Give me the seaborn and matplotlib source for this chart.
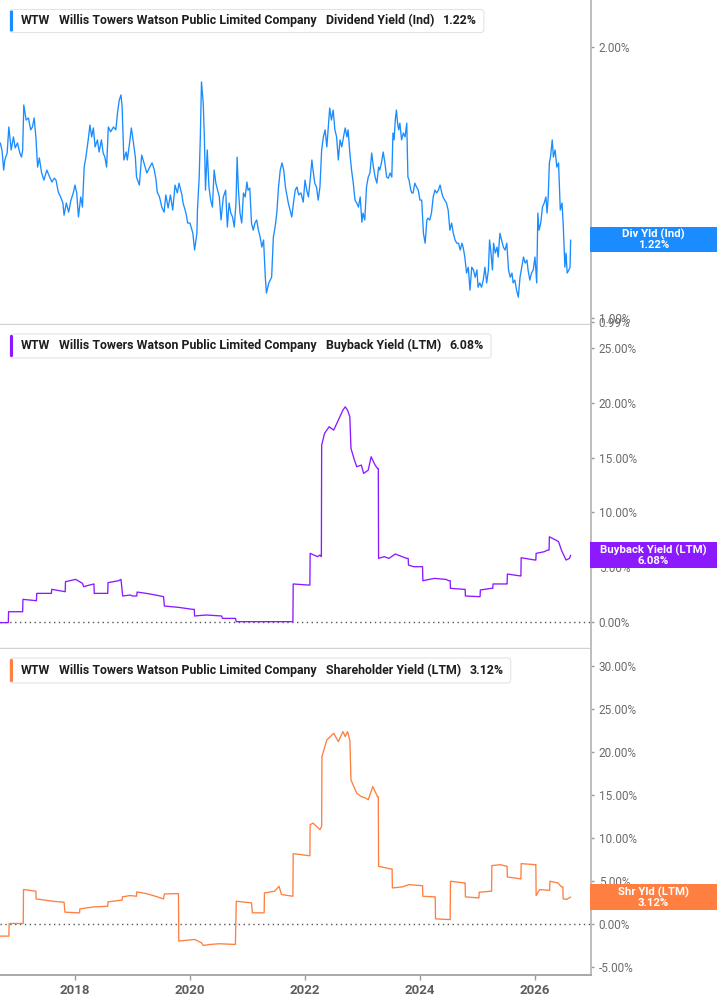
import matplotlib
matplotlib.use("Agg")
import matplotlib.pyplot as plt
import seaborn as sns
import pandas as pd
from matplotlib.patches import FancyBboxPatch, Rectangle
from matplotlib.ticker import NullLocator, NullFormatter

# ---------------- data (decimal years, percent) ----------------
div_years = [
    2016.70, 2016.73, 2016.76, 2016.78, 2016.82, 2016.85, 2016.89, 2016.93, 2016.96, 2017.00,
    2017.04, 2017.07, 2017.09, 2017.11, 2017.15, 2017.19, 2017.23, 2017.26, 2017.29, 2017.32,
    2017.35, 2017.38, 2017.42, 2017.46, 2017.51, 2017.56, 2017.60, 2017.64, 2017.67, 2017.71,
    2017.75, 2017.79, 2017.81, 2017.85, 2017.89, 2017.93, 2017.97, 2018.00, 2018.03, 2018.06,
    2018.10, 2018.13, 2018.16, 2018.19, 2018.23, 2018.26, 2018.29, 2018.32, 2018.35, 2018.39,
    2018.42, 2018.46, 2018.49, 2018.52, 2018.55, 2018.58, 2018.62, 2018.67, 2018.71, 2018.74,
    2018.77, 2018.80, 2018.82, 2018.85, 2018.89, 2018.91, 2018.95, 2018.98, 2019.01, 2019.05,
    2019.07, 2019.12, 2019.16, 2019.20, 2019.25, 2019.29, 2019.34, 2019.38, 2019.41, 2019.43,
    2019.47, 2019.51, 2019.55, 2019.58, 2019.62, 2019.66, 2019.70, 2019.74, 2019.78, 2019.81,
    2019.86, 2019.88, 2019.93, 2019.96, 2020.00, 2020.05, 2020.08, 2020.12, 2020.13, 2020.16,
    2020.18, 2020.20, 2020.23, 2020.25, 2020.27, 2020.30, 2020.33, 2020.36, 2020.39, 2020.42,
    2020.45, 2020.48, 2020.51, 2020.54, 2020.58, 2020.62, 2020.65, 2020.68, 2020.71, 2020.74,
    2020.77, 2020.80, 2020.82, 2020.84, 2020.87, 2020.90, 2020.93, 2020.96, 2020.99, 2021.01,
    2021.04, 2021.07, 2021.10, 2021.13, 2021.16, 2021.19, 2021.22, 2021.25, 2021.28, 2021.31,
    2021.33, 2021.37, 2021.42, 2021.45, 2021.48, 2021.51, 2021.54, 2021.57, 2021.60, 2021.63,
    2021.66, 2021.69, 2021.71, 2021.74, 2021.77, 2021.80, 2021.83, 2021.86, 2021.89, 2021.93,
    2021.97, 2022.00, 2022.03, 2022.06, 2022.09, 2022.12, 2022.14, 2022.17, 2022.20, 2022.23,
    2022.26, 2022.29, 2022.32, 2022.35, 2022.38, 2022.41, 2022.43, 2022.46, 2022.49, 2022.52,
    2022.55, 2022.58, 2022.61, 2022.64, 2022.67, 2022.70, 2022.73, 2022.75, 2022.78, 2022.81,
    2022.84, 2022.87, 2022.90, 2022.93, 2022.96, 2022.99, 2023.01, 2023.04, 2023.07, 2023.10,
    2023.13, 2023.16, 2023.19, 2023.22, 2023.25, 2023.28, 2023.30, 2023.33, 2023.36, 2023.39,
    2023.42, 2023.45, 2023.48, 2023.51, 2023.53, 2023.55, 2023.57, 2023.59, 2023.61, 2023.63,
    2023.65, 2023.68, 2023.71, 2023.74, 2023.77, 2023.79, 2023.81, 2023.84, 2023.86, 2023.88,
    2023.91, 2023.94, 2023.97, 2024.00, 2024.03, 2024.06, 2024.09, 2024.12, 2024.14, 2024.17,
    2024.20, 2024.23, 2024.26, 2024.29, 2024.32, 2024.35, 2024.38, 2024.40, 2024.43, 2024.46,
    2024.49, 2024.52, 2024.55, 2024.58, 2024.61, 2024.64, 2024.67, 2024.70, 2024.73, 2024.75,
    2024.78, 2024.81, 2024.84, 2024.87, 2024.90, 2024.93, 2024.96, 2024.99, 2025.01, 2025.04,
    2025.07, 2025.10, 2025.13, 2025.16, 2025.19, 2025.21, 2025.23, 2025.26, 2025.28, 2025.31,
    2025.34, 2025.36, 2025.39, 2025.42, 2025.45, 2025.48, 2025.51, 2025.54, 2025.57, 2025.60,
    2025.62, 2025.65, 2025.68, 2025.71, 2025.74, 2025.77, 2025.80, 2025.83, 2025.86, 2025.88,
    2025.91, 2025.94, 2025.97, 2026.00, 2026.03, 2026.05, 2026.07, 2026.10, 2026.13, 2026.16,
    2026.19, 2026.21, 2026.23, 2026.25, 2026.27, 2026.30, 2026.32, 2026.35, 2026.38, 2026.41,
    2026.44, 2026.47, 2026.49, 2026.52, 2026.54, 2026.56, 2026.59, 2026.61, 2026.62,
]
div_vals = [
    1.565, 1.537, 1.460, 1.498, 1.525, 1.630, 1.537, 1.589, 1.545, 1.565,
    1.525, 1.509, 1.537, 1.724, 1.659, 1.668, 1.618, 1.630, 1.668, 1.589,
    1.471, 1.506, 1.449, 1.423, 1.460, 1.434, 1.416, 1.430, 1.423, 1.380,
    1.363, 1.342, 1.301, 1.342, 1.311, 1.352, 1.377, 1.405, 1.377, 1.295,
    1.363, 1.328, 1.471, 1.509, 1.577, 1.638, 1.589, 1.626, 1.549, 1.577,
    1.529, 1.577, 1.525, 1.509, 1.471, 1.630, 1.610, 1.630, 1.618, 1.690,
    1.746, 1.769, 1.715, 1.498, 1.529, 1.498, 1.565, 1.626, 1.577, 1.509,
    1.434, 1.405, 1.517, 1.487, 1.449, 1.467, 1.487, 1.460, 1.423, 1.380,
    1.363, 1.328, 1.311, 1.370, 1.325, 1.370, 1.318, 1.405, 1.377, 1.412,
    1.370, 1.342, 1.308, 1.275, 1.275, 1.242, 1.190, 1.242, 1.318, 1.434,
    1.589, 1.829, 1.733, 1.589, 1.387, 1.537, 1.398, 1.352, 1.328, 1.460,
    1.412, 1.387, 1.363, 1.285, 1.363, 1.387, 1.262, 1.342, 1.308, 1.295,
    1.262, 1.342, 1.509, 1.398, 1.308, 1.275, 1.377, 1.363, 1.416, 1.387,
    1.394, 1.275, 1.252, 1.275, 1.285, 1.252, 1.230, 1.199, 1.221, 1.110,
    1.066, 1.094, 1.110, 1.230, 1.262, 1.308, 1.398, 1.460, 1.487, 1.460,
    1.398, 1.363, 1.342, 1.318, 1.295, 1.342, 1.387, 1.398, 1.370, 1.377,
    1.345, 1.423, 1.387, 1.363, 1.423, 1.498, 1.460, 1.412, 1.398, 1.352,
    1.398, 1.537, 1.589, 1.618, 1.549, 1.646, 1.711, 1.659, 1.702, 1.618,
    1.589, 1.498, 1.577, 1.549, 1.589, 1.626, 1.589, 1.618, 1.525, 1.460,
    1.412, 1.352, 1.342, 1.328, 1.363, 1.278, 1.308, 1.285, 1.398, 1.434,
    1.449, 1.525, 1.471, 1.434, 1.412, 1.471, 1.460, 1.487, 1.529, 1.487,
    1.434, 1.430, 1.449, 1.434, 1.605, 1.577, 1.659, 1.702, 1.646, 1.618,
    1.646, 1.577, 1.605, 1.589, 1.646, 1.434, 1.423, 1.387, 1.377, 1.377,
    1.412, 1.398, 1.387, 1.352, 1.352, 1.242, 1.211, 1.285, 1.291, 1.285,
    1.308, 1.363, 1.387, 1.377, 1.387, 1.405, 1.377, 1.363, 1.352, 1.342,
    1.318, 1.252, 1.275, 1.242, 1.221, 1.211, 1.211, 1.190, 1.211, 1.199,
    1.169, 1.122, 1.139, 1.074, 1.139, 1.131, 1.110, 1.131, 1.082, 1.094,
    1.082, 1.102, 1.139, 1.094, 1.131, 1.221, 1.190, 1.131, 1.211, 1.181,
    1.199, 1.169, 1.242, 1.221, 1.199, 1.190, 1.211, 1.131, 1.110, 1.122,
    1.094, 1.102, 1.074, 1.055, 1.110, 1.139, 1.169, 1.151, 1.160, 1.131,
    1.102, 1.122, 1.131, 1.169, 1.094, 1.308, 1.252, 1.275, 1.328, 1.342,
    1.363, 1.308, 1.363, 1.487, 1.509, 1.577, 1.509, 1.537, 1.471, 1.487,
    1.318, 1.342, 1.275, 1.139, 1.181, 1.122, 1.131, 1.139, 1.221,
]

bb_years = [
    2016.70, 2016.84, 2016.845, 2017.09, 2017.095, 2017.33, 2017.335, 2017.59, 2017.595, 2017.83,
    2017.835, 2018.01, 2018.13, 2018.15, 2018.25, 2018.33, 2018.335, 2018.57, 2018.575, 2018.76,
    2018.80, 2018.83, 2018.96, 2019.00, 2019.075, 2019.08, 2019.24, 2019.40, 2019.54, 2019.555,
    2019.80, 2020.04, 2020.075, 2020.08, 2020.28, 2020.55, 2020.565, 2020.79, 2020.805, 2021.79,
    2021.795, 2022.06, 2022.085, 2022.09, 2022.22, 2022.26, 2022.285, 2022.29, 2022.34, 2022.42,
    2022.50, 2022.58, 2022.66, 2022.70, 2022.74, 2022.78, 2022.80, 2022.86, 2022.90, 2022.98,
    2023.02, 2023.10, 2023.15, 2023.22, 2023.26, 2023.275, 2023.28, 2023.38, 2023.46, 2023.57,
    2023.69, 2023.77, 2023.795, 2023.80, 2023.89, 2024.01, 2024.045, 2024.05, 2024.25, 2024.45,
    2024.50, 2024.525, 2024.53, 2024.77, 2024.785, 2024.79, 2025.03, 2025.045, 2025.05, 2025.24,
    2025.265, 2025.27, 2025.51, 2025.515, 2025.52, 2025.75, 2025.755, 2025.76, 2026.00, 2026.015,
    2026.02, 2026.16, 2026.22, 2026.245, 2026.25, 2026.36, 2026.41, 2026.46, 2026.54, 2026.60,
    2026.62,
]
bb_vals = [
    -0.09, -0.09, 0.91, 0.91, 2.04, 1.92, 2.59, 2.59, 2.96, 2.74,
    3.66, 3.87, 3.51, 3.20, 3.35, 3.45, 2.59, 2.59, 3.57, 3.75,
    3.87, 2.35, 2.44, 2.35, 2.35, 2.71, 2.59, 2.44, 2.29, 1.43,
    1.31, 1.13, 1.13, 0.52, 0.61, 0.52, 0.30, 0.30, 0.00, 0.00,
    3.45, 3.35, 3.35, 6.25, 5.95, 6.10, 5.95, 16.16, 17.23, 17.84,
    17.53, 18.45, 19.36, 19.66, 19.36, 18.75, 15.85, 14.79, 14.18, 14.33,
    13.57, 13.87, 15.09, 14.33, 14.02, 14.02, 5.79, 5.95, 5.79, 6.19,
    5.95, 5.79, 5.79, 5.18, 5.03, 5.03, 5.03, 3.75, 3.96, 3.87,
    3.75, 3.75, 3.05, 2.96, 2.96, 2.35, 2.29, 2.29, 2.90, 3.05,
    3.05, 3.45, 3.45, 3.45, 4.36, 4.18, 4.18, 5.85, 5.64, 5.64,
    6.25, 6.40, 6.55, 6.55, 7.77, 7.47, 7.32, 6.55, 5.64, 5.79,
    6.08,
]

shy_years = [
    2016.70, 2016.85, 2016.855, 2017.10, 2017.105, 2017.21, 2017.32, 2017.325, 2017.49, 2017.61,
    2017.81, 2017.825, 2018.05, 2018.08, 2018.085, 2018.21, 2018.33, 2018.57, 2018.575, 2018.80,
    2018.82, 2018.825, 2018.96, 2019.07, 2019.075, 2019.24, 2019.40, 2019.54, 2019.555, 2019.80,
    2019.805, 2019.96, 2020.08, 2020.20, 2020.23, 2020.35, 2020.51, 2020.79, 2020.805, 2021.07,
    2021.085, 2021.29, 2021.295, 2021.47, 2021.55, 2021.59, 2021.79, 2021.795, 2021.94, 2022.06,
    2022.085, 2022.09, 2022.14, 2022.26, 2022.29, 2022.295, 2022.38, 2022.50, 2022.58, 2022.66,
    2022.70, 2022.74, 2022.78, 2022.80, 2022.90, 2022.98, 2023.06, 2023.10, 2023.18, 2023.26,
    2023.275, 2023.28, 2023.42, 2023.49, 2023.515, 2023.52, 2023.69, 2023.81, 2024.01, 2024.045,
    2024.05, 2024.25, 2024.265, 2024.27, 2024.50, 2024.525, 2024.53, 2024.77, 2024.785, 2024.79,
    2025.01, 2025.025, 2025.03, 2025.22, 2025.245, 2025.25, 2025.40, 2025.51, 2025.515, 2025.52,
    2025.75, 2025.755, 2025.76, 2026.00, 2026.015, 2026.02, 2026.08, 2026.24, 2026.255, 2026.26,
    2026.40, 2026.46, 2026.485, 2026.49, 2026.55, 2026.62,
]
shy_vals = [
    -1.43, -1.43, 0.04, 0.04, 3.99, 3.91, 3.79, 2.90, 2.75, 2.63,
    2.52, 1.36, 1.28, 1.28, 1.74, 1.86, 1.97, 2.05, 2.56, 2.75,
    2.75, 3.14, 3.29, 3.21, 3.72, 3.52, 3.21, 2.90, 3.48, 3.52,
    -2.01, -1.90, -1.82, -2.21, -2.52, -2.40, -2.32, -2.40, 2.63, 2.44,
    1.28, 1.28, 3.60, 3.79, 4.37, 3.41, 3.21, 8.17, 8.05, 7.94,
    7.94, 11.54, 11.73, 10.96, 11.34, 19.47, 21.41, 22.18, 21.22, 22.38,
    21.80, 22.38, 21.41, 16.76, 15.21, 14.82, 14.63, 14.44, 15.99, 14.82,
    14.82, 6.70, 6.50, 6.39, 6.39, 4.18, 4.30, 4.57, 4.45, 4.45,
    3.21, 3.14, 3.14, 0.58, 0.50, 0.50, 4.96, 4.76, 4.76, 3.14,
    3.02, 3.02, 3.68, 3.79, 3.79, 6.78, 6.89, 6.70, 6.70, 5.46,
    5.23, 5.23, 7.01, 6.89, 6.89, 3.29, 3.99, 3.91, 3.91, 4.96,
    4.76, 4.30, 4.30, 2.90, 2.85, 3.12,
]

company = "Willis Towers Watson Public Limited Company"
ticker = "WTW"
series_names = ["Dividend Yield (Ind)", "Buyback Yield (LTM)", "Shareholder Yield (LTM)"]
short_names = ["Div Yld (Ind)", "Buyback Yield (LTM)", "Shr Yld (LTM)"]
colors = ["#1a8cff", "#8c1aff", "#ff7f40"]
x_ticks = [2018, 2020, 2022, 2024, 2026]
bb_ticks = [0, 5, 10, 15, 20, 25]
shy_ticks = [-5, 0, 5, 10, 15, 20, 25, 30]
div_ticks = [0.99, 1.00, 2.00]

# ---------------- style ----------------
sns.set_theme(style="white")
plt.rcParams["font.family"] = ["Roboto", "DejaVu Sans"]

W, H = 717, 1005
fig = plt.figure(figsize=(W / 100, H / 100), dpi=100)
fig.patch.set_facecolor("white")

AX_RIGHT = 591


def rect(top, bottom):
    return [0, 1 - bottom / H, AX_RIGHT / W, (bottom - top) / H]


ax1 = fig.add_axes(rect(0, 324))
ax2 = fig.add_axes(rect(325, 648))
ax3 = fig.add_axes(rect(649, 974.5))
axes = [ax1, ax2, ax3]

frames = [
    pd.DataFrame({"year": div_years, "value": div_vals}),
    pd.DataFrame({"year": bb_years, "value": bb_vals}),
    pd.DataFrame({"year": shy_years, "value": shy_vals}),
]

for ax, df, c in zip(axes, frames, colors):
    sns.lineplot(data=df, x="year", y="value", ax=ax, color=c, linewidth=0.95,
                 estimator=None, sort=False)
    ax.set_xlabel("")
    ax.set_ylabel("")
    ax.set_xlim(2016.696, 2016.696 + AX_RIGHT / 57.5)
    ax.set_facecolor("white")
    ax.grid(False)
    for s in ("top", "left"):
        ax.spines[s].set_visible(False)
    ax.spines["right"].set_color("#b8b8b8")
    ax.spines["right"].set_linewidth(1.3)
    ax.yaxis.tick_right()
    ax.tick_params(axis="y", which="major", right=True, left=False, length=2.5,
                   width=1, color="#9a9a9a", pad=3, labelsize=8.5, labelcolor="#6b6b6b")

# panel 1: log scale
ax1.set_yscale("log")
ax1.set_ylim(0.985, 2.255)
ax1.set_yticks(div_ticks)
ax1.set_yticklabels([f"{v:.2f}%" for v in div_ticks])
ax1.yaxis.set_minor_locator(NullLocator())
ax1.yaxis.set_minor_formatter(NullFormatter())

ax2.set_ylim(-2.41, 27.15)
ax2.set_yticks(bb_ticks)
ax2.set_yticklabels([f"{v:.2f}%" for v in bb_ticks])

ax3.set_ylim(-5.9, 32.0)
ax3.set_yticks(shy_ticks)
ax3.set_yticklabels([f"{v:.2f}%" for v in shy_ticks])

for ax in (ax1, ax2):
    ax.spines["bottom"].set_color("#d2d2d2")
    ax.spines["bottom"].set_linewidth(1.0)
    ax.tick_params(axis="x", bottom=False, labelbottom=False)

ax3.spines["bottom"].set_color("#a8a8a8")
ax3.spines["bottom"].set_linewidth(1.4)
ax3.set_xticks(x_ticks)
ax3.set_xticklabels([str(t) for t in x_ticks], fontweight="bold")
ax3.tick_params(axis="x", bottom=True, length=3.5, width=1, color="#9a9a9a",
                pad=3, labelsize=9.5, labelcolor="#5e5e5e")

for ax in (ax2, ax3):
    ax.axhline(0, color="#555555", linewidth=1.0, linestyle=(0, (1, 2.5)), zorder=1)

# ---------------- legends (top-left headers) ----------------
T = fig.dpi_scale_trans
renderer = fig.canvas.get_renderer()


def fx(x):
    return x / 100


def fy(y):
    return (H - y) / 100


last_vals = [div_vals[-1], bb_vals[-1], shy_vals[-1]]
headers = [
    # (box_top, box_bottom, text_center_y)
    (9.5, 32.5, 20.8),
    (334, 358, 345.8),
    (658, 683, 670.7),
]
for (bt, bbm, tc), name, c, v in zip(headers, series_names, colors, last_vals):
    kw = dict(transform=T, ha="left", va="center", fontsize=8.9, color="#1e1e1e",
              zorder=7, fontweight="bold")
    x = 20.6
    end = x
    for seg, gap in ((ticker, 9.0), (company, 9.0), (name, 9.0), (f"{v:.2f}%", 0)):
        t = fig.text(fx(x), fy(tc), seg, **kw)
        bb = t.get_window_extent(renderer)
        end = x + bb.width
        x = end + gap
    br = end + 7
    box = FancyBboxPatch((fx(10), fy(bbm)), fx(br - 10), (bbm - bt) / 100,
                         boxstyle="round,pad=0,rounding_size=0.03", transform=T,
                         fc="white", ec="#e4e4e4", lw=0.8, zorder=5)
    fig.add_artist(box)
    bar = FancyBboxPatch((fx(10), fy(bbm - 1)), 0.03, (bbm - bt - 2) / 100,
                         boxstyle="round,pad=0,rounding_size=0.012", transform=T,
                         fc=c, ec="none", zorder=6)
    fig.add_artist(bar)

# ---------------- right value boxes ----------------
boxes = [(226.7, 252.3), (542, 568), (884, 910)]
for (t, b), sname, c, v in zip(boxes, short_names, colors, last_vals):
    r = Rectangle((fx(590), fy(b)), fx(W - 590), (b - t) / 100, transform=T,
                  fc=c, ec="none", zorder=8)
    fig.add_artist(r)
    fig.text(fx(653.5), fy((t + b) / 2), f"{sname}\n{v:.2f}%", transform=T,
             ha="center", va="center", fontsize=8.2, fontweight="bold",
             color="white", linespacing=1.0, zorder=9)

fig.savefig("out.png", dpi=100, facecolor="white")
